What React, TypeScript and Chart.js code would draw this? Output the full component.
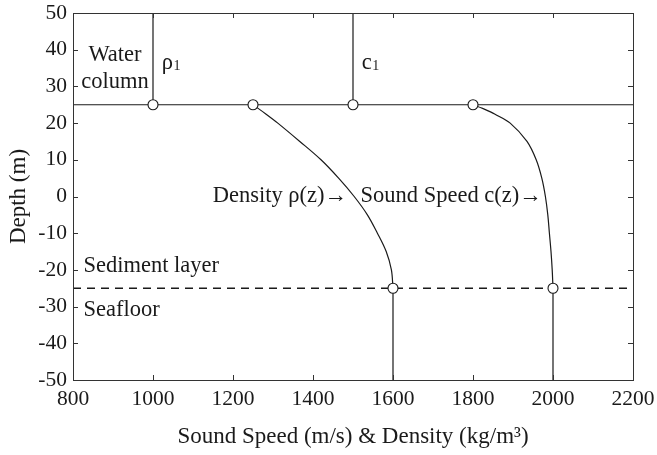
import React, { useEffect, useRef } from "react";
import { Chart, registerables } from "chart.js";

Chart.register(...registerables);

// ---- data ----
const xTicks = [800, 1000, 1200, 1400, 1600, 1800, 2000, 2200];
const yTicks = [-50, -40, -30, -20, -10, 0, 10, 20, 30, 40, 50];

const densityDepth = [25, 22.5, 20, 15, 10, 5, 0, -5, -10, -15, -20, -25];
const densityValues = [1250, 1282, 1312, 1367, 1420, 1464, 1503, 1536, 1561, 1583, 1596, 1600];

const speedDepth = [25, 24, 23, 22.5, 20, 15, 10, 5, 0, -5, -10, -15, -20, -25];
const speedValues = [1800, 1824, 1845, 1854, 1893, 1935, 1958, 1972, 1981, 1987, 1991, 1995, 1998, 2000];

const waterBottom = 25;
const seafloor = -25;
const rho1 = 1000;
const c1 = 1500;
const rhoSediment = 1600;
const cSediment = 2000;
const markerX = [1000, 1250, 1500, 1800, 1600, 2000];
const markerY = [25, 25, 25, 25, -25, -25];

const FONT = "'Liberation Serif', 'DejaVu Serif', serif";
const INK = "#1a1a1a";
const TXT = 22.5;
const TITLE = 23;
const TICK = 21.5;

const framePlugin = {
  id: "frame",
  afterDatasetsDraw(chart: any) {
    const { ctx, chartArea: a, scales } = chart;
    const xs = scales.x;
    const ys = scales.y;
    ctx.save();
    // frame
    ctx.strokeStyle = "#333";
    ctx.lineWidth = 1;
    ctx.strokeRect(Math.round(a.left) + 0.5, Math.round(a.top) + 0.5, Math.round(a.right - a.left), Math.round(a.bottom - a.top));
    // inward ticks
    const tl = 5;
    ctx.beginPath();
    for (const v of xTicks) {
      const px = Math.round(xs.getPixelForValue(v)) + 0.5;
      ctx.moveTo(px, a.bottom);
      ctx.lineTo(px, a.bottom - tl);
      ctx.moveTo(px, a.top);
      ctx.lineTo(px, a.top + tl);
    }
    for (const v of yTicks) {
      const py = Math.round(ys.getPixelForValue(v)) + 0.5;
      ctx.moveTo(a.left, py);
      ctx.lineTo(a.left + tl, py);
      ctx.moveTo(a.right, py);
      ctx.lineTo(a.right - tl, py);
    }
    ctx.stroke();

    // annotations
    ctx.fillStyle = INK;
    ctx.font = `${TXT}px ${FONT}`;
    ctx.textBaseline = "middle";
    const X = (v: number) => xs.getPixelForValue(v);
    const Y = (v: number) => ys.getPixelForValue(v);

    ctx.textAlign = "center";
    ctx.fillText("Water", X(905), Y(38.5));
    ctx.fillText("column", X(905), Y(31.2));

    ctx.textAlign = "left";
    const sub = (base: string, x: number, y: number) => {
      ctx.font = `${TXT}px ${FONT}`;
      ctx.fillText(base, x, y);
      const w = ctx.measureText(base).width;
      ctx.font = `14px ${FONT}`;
      ctx.fillText("1", x + w + 0.5, y + 3);
      ctx.font = `${TXT}px ${FONT}`;
    };
    sub("ρ", X(1022), Y(36.3));
    sub("c", X(1522), Y(36.3));

    ctx.textAlign = "right";
    ctx.fillText("Density ρ(z)→", X(1485), Y(0));
    ctx.fillText("Sound Speed c(z)→", X(1972), Y(0));

    ctx.textAlign = "left";
    ctx.fillText("Sediment layer", X(826), Y(-19));
    ctx.fillText("Seafloor", X(826), Y(-31));

    // axis titles
    ctx.font = `${TITLE}px ${FONT}`;
    ctx.textAlign = "center";
    ctx.fillText("Sound Speed (m/s) & Density (kg/m³)", (a.left + a.right) / 2, 437);
    ctx.save();
    ctx.translate(19, (a.top + a.bottom) / 2);
    ctx.rotate(-Math.PI / 2);
    ctx.fillText("Depth (m)", 0, 0);
    ctx.restore();
    ctx.restore();
  },
};

export default function App() {
  const ref = useRef<HTMLCanvasElement>(null);
  useEffect(() => {
    if (!ref.current) return;
    const line = (pts: { x: number; y: number }[], extra: any = {}) => ({
      type: "line",
      data: pts,
      borderColor: INK,
      borderWidth: 1.2,
      pointRadius: 0,
      showLine: true,
      fill: false,
      ...extra,
    });
    const chart = new Chart(ref.current, {
      type: "scatter",
      data: {
        datasets: [
          {
            type: "scatter",
            data: markerX.map((x, i) => ({ x, y: markerY[i] })),
            pointRadius: 5,
            pointBackgroundColor: "#fff",
            pointBorderColor: INK,
            pointBorderWidth: 1.1,
            showLine: false,
          } as any,
          line([{ x: 800, y: waterBottom }, { x: 2200, y: waterBottom }]),
          line([{ x: 800, y: seafloor }, { x: 2200, y: seafloor }], { borderDash: [8, 6], borderWidth: 1.3 }),
          line([{ x: rho1, y: waterBottom }, { x: rho1, y: 50 }]),
          line([{ x: c1, y: waterBottom }, { x: c1, y: 50 }]),
          line([{ x: rhoSediment, y: seafloor }, { x: rhoSediment, y: -50 }]),
          line([{ x: cSediment, y: seafloor }, { x: cSediment, y: -50 }]),
          line(densityDepth.map((z, i) => ({ x: densityValues[i], y: z })), { tension: 0.35 }),
          line(speedDepth.map((z, i) => ({ x: speedValues[i], y: z })), { tension: 0.35 }),
        ] as any,
      },
      options: {
        animation: false,
        responsive: false,
        events: [],
        layout: { padding: { top: 13, right: 24, left: 0, bottom: 0 } },
        plugins: { legend: { display: false }, tooltip: { enabled: false } },
        scales: {
          x: {
            type: "linear",
            min: 800,
            max: 2200,
            grid: { display: false, drawTicks: false },
            border: { display: false },
            afterBuildTicks: (s: any) => {
              s.ticks = xTicks.map((v) => ({ value: v }));
            },
            afterFit: (s: any) => {
              s.height = 75;
              s.paddingLeft = 0;
              s.paddingRight = 0;
              s.paddingTop = 0;
              s.paddingBottom = 0;
            },
            ticks: {
              color: INK,
              padding: 6,
              maxRotation: 0,
              font: { family: FONT, size: TICK },
              callback: (v: any) => String(v),
            },
          },
          y: {
            type: "linear",
            min: -50,
            max: 50,
            grid: { display: false, drawTicks: false },
            border: { display: false },
            afterBuildTicks: (s: any) => {
              s.ticks = yTicks.map((v) => ({ value: v }));
            },
            afterFit: (s: any) => {
              s.width = 73;
              s.paddingLeft = 0;
              s.paddingRight = 0;
              s.paddingTop = 0;
              s.paddingBottom = 0;
            },
            ticks: {
              color: INK,
              padding: 6,
              font: { family: FONT, size: TICK },
              callback: (v: any) => String(v),
            },
          },
        },
      } as any,
      plugins: [framePlugin],
    });
    return () => chart.destroy();
  }, []);
  return (
    <div style={{ position: "fixed", left: 0, top: 0, width: 657, height: 455, background: "#fff" }}>
      <canvas ref={ref} width={657} height={455} style={{ display: "block" }} />
    </div>
  );
}
